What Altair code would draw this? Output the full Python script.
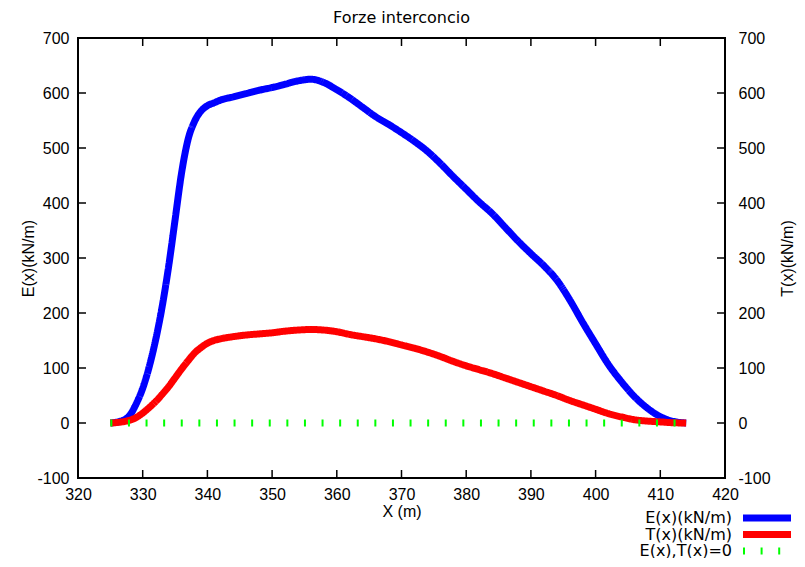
import altair as alt
import pandas as pd

# ---- data ----
e_x = [325, 326.5, 328, 329, 330, 331, 332, 333, 334, 335, 336, 337, 338, 339, 340, 341, 342,
       344, 346, 348, 350, 352, 354, 356, 358, 360, 362, 364, 366, 368, 370, 372, 374, 376,
       378, 380, 382, 384, 386, 388, 390, 392, 394, 396, 398, 400, 402, 404, 406, 408, 410, 412, 413, 414]
e_y = [0, 3, 14, 35, 63, 102, 151, 211, 284, 369, 454, 515, 548, 567, 577, 582, 587,
       593, 599, 605, 610, 616, 622, 625, 619, 606, 591, 574, 557, 543, 528, 512, 494, 472,
       448, 425, 402, 381, 356, 331, 308, 286, 260, 224, 183, 144, 106, 75, 48, 27, 11.5, 3, 1, 0]

t_x = [325, 326.5, 328, 329, 330, 331, 332, 333, 334, 335, 336, 337, 338, 339, 340, 341, 342,
       344, 346, 348, 350, 352, 354, 356, 358, 360, 362, 364, 366, 368, 370, 372, 374, 376, 378,
       380, 382, 384, 386, 388, 390, 392, 394, 396, 398, 400, 402, 404, 406, 408, 410, 412, 414]
t_y = [0, 1.5, 5, 10, 18, 28, 39, 52, 66, 82, 98, 113, 127, 137, 145, 150, 153,
       157, 160, 162, 164, 167, 169, 170, 169, 166, 161, 157, 153, 148, 142, 136, 129, 121, 112,
       104, 97, 90, 82, 74, 66, 58, 50, 41, 33, 25, 17, 11, 6, 3.5, 2, 0.5, 0]

z_x = [325, 414]
z_y = [0, 0]

series = ["E(x)(kN/m)", "T(x)(kN/m)", "E(x),T(x)=0"]
colors = ["#0000ff", "#ff0000", "#00ff00"]
x_ticks = list(range(320, 421, 10))
y_ticks = list(range(-100, 701, 100))

W, H = 647, 440
FONT = "DejaVu Sans"

xs = alt.Scale(domain=[320, 420], nice=False, zero=False)
ys = alt.Scale(domain=[-100, 700], nice=False, zero=False)
color_scale = alt.Scale(domain=series, range=colors)
dash_scale = alt.Scale(domain=series, range=[[1, 0], [1, 0], [2, 15.6]])
width_scale = alt.Scale(domain=series, range=[7, 7, 4])

LABEL_EXPR = "'' + datum.value"

x_axis = alt.Axis(values=x_ticks, ticks=False, domain=False, grid=False,
                  labelFontSize=16, labelPadding=8, labelFlush=False, labelOverlap=False,
                  labelExpr=LABEL_EXPR,
                  title="X (m)", titleFontSize=16, titleFontWeight="normal",
                  titleX=W / 2, titleY=38, titleAlign="center", titleBaseline="alphabetic")
y_axis_left = alt.Axis(values=y_ticks, ticks=False, domain=False, grid=False,
                       labelFontSize=16, labelPadding=9, labelOverlap=False, labelFlush=False,
                       labelExpr=LABEL_EXPR,
                       title="E(x)(kN/m)", titleFontSize=16, titleFontWeight="normal",
                       titleX=-50, titleY=H / 2, titleAngle=270, titleAlign="center",
                       titleBaseline="middle")
y_axis_right = alt.Axis(orient="right", values=y_ticks, ticks=False, domain=False, grid=False,
                        labelFontSize=16, labelPadding=13, labelOverlap=False, labelFlush=False,
                        labelExpr=LABEL_EXPR,
                        title="T(x)(kN/m)", titleFontSize=16, titleFontWeight="normal",
                        titleX=62, titleY=H / 2, titleAngle=270, titleAlign="center",
                        titleBaseline="middle")


def line_layer(xv, yv, name):
    df = pd.DataFrame({"x": xv, "y": yv, "s": name})
    return alt.Chart(df).mark_line(interpolate="monotone", strokeCap="butt").encode(
        x=alt.X("x:Q", scale=xs, axis=x_axis),
        y=alt.Y("y:Q", scale=ys, axis=y_axis_left),
        color=alt.Color("s:N", scale=color_scale, legend=None),
        strokeDash=alt.StrokeDash("s:N", scale=dash_scale, legend=None),
        strokeWidth=alt.StrokeWidth("s:N", scale=width_scale, legend=None),
    )


e_layer = line_layer(e_x, e_y, series[0])
t_layer = line_layer(t_x, t_y, series[1])
z_layer = line_layer(z_x, z_y, series[2])

xt = pd.DataFrame({"t": x_ticks})
yt = pd.DataFrame({"t": y_ticks})

bottom_ticks = alt.Chart(xt).mark_rule(color="black", strokeWidth=1.5).encode(
    x=alt.X("t:Q", scale=xs, axis=x_axis), y=alt.value(H), y2=alt.value(H - 8))
top_ticks = alt.Chart(xt).mark_rule(color="black", strokeWidth=1.5).encode(
    x=alt.X("t:Q", scale=xs, axis=x_axis), y=alt.value(0), y2=alt.value(8))
left_ticks = alt.Chart(yt).mark_rule(color="black", strokeWidth=1.5).encode(
    y=alt.Y("t:Q", scale=ys, axis=y_axis_left), x=alt.value(0), x2=alt.value(8))
right_ticks = alt.Chart(yt).mark_rule(color="black", strokeWidth=1.5).encode(
    y=alt.Y("t:Q", scale=ys, axis=y_axis_right), x=alt.value(W - 8), x2=alt.value(W))
frame = alt.Chart(pd.DataFrame({"k": [0]})).mark_rect(
    filled=False, stroke="black", strokeWidth=2).encode(
    x=alt.value(0), x2=alt.value(W), y=alt.value(0), y2=alt.value(H))

# ---- legend (gnuplot style: label right-aligned, sample to its right) ----
legend_df = pd.DataFrame({"s": series})
legend_y = alt.Y("s:N", scale=alt.Scale(type="point", domain=series, range=[480, 513], padding=0),
                 axis=None)
legend_text = alt.Chart(legend_df).mark_text(
    align="right", baseline="middle", font=FONT, fontSize=16, color="black").encode(
    x=alt.value(654), y=legend_y, text="s:N")
legend_lines = alt.Chart(legend_df).mark_rule(strokeCap="butt").encode(
    x=alt.value(665), x2=alt.value(713), y=legend_y,
    color=alt.Color("s:N", scale=color_scale, legend=None),
    strokeDash=alt.StrokeDash("s:N", scale=dash_scale, legend=None),
    strokeWidth=alt.StrokeWidth("s:N", scale=width_scale, legend=None))

inner = alt.layer(e_layer, t_layer, z_layer, left_ticks, bottom_ticks, top_ticks, frame)

chart = alt.layer(inner, right_ticks, legend_text, legend_lines).resolve_scale(y="independent").properties(
    width=W, height=H,
    autosize=alt.AutoSizeParams(type="none"),
    padding={"left": 70, "top": 30, "right": 72, "bottom": 80},
    title=alt.TitleParams("Forze interconcio", font=FONT, fontSize=16, fontWeight="normal",
                          frame="group", offset=alt.ExprRef("-9"), baseline="alphabetic",
                          anchor="middle", color="black"),
).configure_view(stroke="black", strokeWidth=2).configure_axis(
    labelFont=FONT, titleFont=FONT, labelColor="black", titleColor="black"
).configure(background="white")

chart.save("out.html", embed_options={"renderer": "svg", "actions": False})
